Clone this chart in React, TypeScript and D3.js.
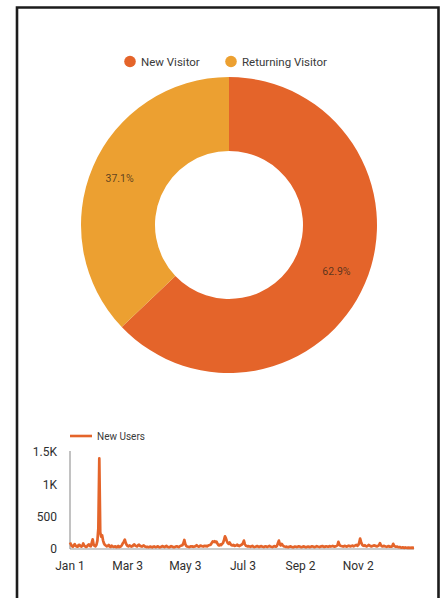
import React from "react";
import * as d3 from "d3";

const segments = ["New Visitor", "Returning Visitor"];
const shares = [62.9, 37.1];
const segColors = ["#E4642A", "#ECA031"];

const seriesName = "New Users";
const startDate = new Date(2019, 0, 1);
const newUsers = [
  100, 70, 45, 35, 55, 75, 50, 40, 35, 60,
  65, 45, 38, 48, 85, 55, 42, 32, 38, 62,
  72, 48, 42, 95, 150, 65, 50, 42, 65, 130,
  320, 1400, 260, 190, 210, 130, 85, 62, 52, 42,
  48, 62, 38, 32, 52, 42, 32, 36, 42, 28,
  32, 46, 30, 36, 42, 62, 90, 115, 145, 95,
  62, 45, 40, 55, 48, 38, 42, 60, 70, 52,
  45, 40, 58, 66, 50, 42, 38, 48, 55, 40,
  36, 30, 34, 28, 32, 38, 30, 26, 34, 40,
  32, 28, 36, 42, 30, 26, 32, 38, 45, 34,
  30, 40, 48, 36, 30, 28, 35, 44, 38, 30,
  26, 32, 38, 42, 35, 30, 40, 48, 55, 60,
  90, 140, 75, 48, 38, 34, 30, 36, 42, 38,
  40, 34, 38, 46, 58, 44, 36, 40, 52, 48,
  42, 38, 50, 44, 48, 40, 52, 58, 62, 70,
  95, 118, 110, 120, 105, 112, 85, 60, 55, 70,
  62, 80, 95, 140, 195, 165, 120, 90, 80, 100,
  72, 60, 55, 64, 48, 52, 58, 66, 50, 46,
  54, 60, 70, 90, 130, 75, 52, 46, 40, 44,
  38, 34, 42, 48, 36, 30, 34, 40, 46, 38,
  32, 36, 44, 40, 34, 30, 38, 42, 36, 32,
  40, 48, 38, 34, 30, 36, 44, 40, 36, 48,
  90, 130, 75, 55, 80, 60, 44, 38, 34, 36,
  32, 28, 34, 40, 36, 30, 26, 32, 38, 34,
  30, 36, 42, 38, 32, 28, 34, 40, 36, 30,
  28, 34, 38, 32, 30, 36, 42, 38, 32, 30,
  36, 44, 38, 34, 30, 36, 40, 46, 38, 32,
  36, 42, 38, 34, 40, 44, 38, 42, 48, 40,
  36, 42, 48, 56, 110, 70, 50, 46, 42, 38,
  44, 48, 40, 38, 46, 52, 44, 40, 48, 54,
  42, 48, 56, 64, 50, 60, 95, 160, 110, 70,
  55, 48, 58, 46, 40, 48, 62, 54, 44, 40,
  46, 52, 58, 48, 44, 40, 48, 60, 90, 58,
  44, 40, 50, 44, 38, 34, 40, 46, 38, 36,
  36, 42, 80, 50, 40, 34, 38, 32, 28, 30,
  24, 20, 26, 22, 18, 24, 20, 16, 22, 18,
  20, 16, 22, 18, 20,
];

const yTicks = [0, 500, 1000, 1500];
const yTickLabels = ["0", "500", "1K", "1.5K"];
const xTickDates = [
  new Date(2019, 0, 1),
  new Date(2019, 2, 3),
  new Date(2019, 4, 3),
  new Date(2019, 6, 3),
  new Date(2019, 8, 2),
  new Date(2019, 10, 2),
];
const xTickLabels = ["Jan 1", "Mar 3", "May 3", "Jul 3", "Sep 2", "Nov 2"];

const FONT = "Roboto, 'Helvetica Neue', Arial, sans-serif";

export default function App() {
  const W = 448;
  const H = 598;

  // donut
  const cx = 229;
  const cy = 225;
  const outerR = 148;
  const innerR = 74;
  const pie = d3.pie<number>().value((d) => d).sort(null);
  const arcs = pie(shares);
  const arcGen = d3.arc<d3.PieArcDatum<number>>().innerRadius(innerR).outerRadius(outerR);
  const labelArc = d3.arc<d3.PieArcDatum<number>>().innerRadius(118).outerRadius(118);

  // line chart
  const dates = newUsers.map((_, i) => d3.timeDay.offset(startDate, i));
  const x = d3
    .scaleTime()
    .domain([dates[0], dates[dates.length - 1]])
    .range([70, 414]);
  const y = d3.scaleLinear().domain([0, 1500]).range([549, 452]);
  const line = d3
    .line<number>()
    .x((_, i) => x(dates[i]))
    .y((d) => y(d))
    .curve(d3.curveLinear);

  return (
    <svg
      width={W}
      height={H}
      style={{ position: "absolute", left: 0, top: 0, background: "#fff" }}
      fontFamily={FONT}
    >
      <rect x={0} y={0} width={W} height={H} fill="#fff" />
      {/* frame */}
      <path d={`M17,${H + 5} L17,7.5 L438.5,7.5 L438.5,${H + 5}`} fill="none" stroke="#1c1c1c" strokeWidth={2.6} />

      {/* donut legend */}
      {segments.map((s, i) => {
        const lx = i === 0 ? 130 : 231;
        return (
          <g key={s}>
            <circle cx={lx} cy={61.5} r={5.8} fill={segColors[i]} />
            <text x={lx + 11} y={61.5} dy="0.35em" fontSize={11.5} fill="#3a3a3a">
              {s}
            </text>
          </g>
        );
      })}

      {/* donut */}
      <g transform={`translate(${cx},${cy})`}>
        {arcs.map((a, i) => (
          <path key={i} d={arcGen(a) as string} fill={segColors[i]} />
        ))}
        {arcs.map((a, i) => {
          const [lx, ly] = labelArc.centroid(a);
          return (
            <text
              key={"l" + i}
              x={lx - 1}
              y={ly}
              dy="0.35em"
              textAnchor="middle"
              fontSize={10.5}
              fill="#3a2a1a"
              fillOpacity={0.8}
            >
              {shares[i].toFixed(1) + "%"}
            </text>
          );
        })}
      </g>

      {/* line legend */}
      <line x1={70} x2={92} y1={436} y2={436} stroke={segColors[0]} strokeWidth={2.6} />
      <text x={97} y={436} dy="0.35em" fontSize={10} fill="#3a3a3a">
        {seriesName}
      </text>

      {/* axes */}
      <line x1={70} x2={70} y1={451} y2={549} stroke="#999" strokeWidth={1.2} />
      <line x1={70} x2={414} y1={549} y2={549} stroke="#999" strokeWidth={1} />
      {yTicks.map((t, i) => (
        <text key={t} x={57} y={y(t)} dy="0.35em" textAnchor="end" fontSize={12} fill="#2e2e2e">
          {yTickLabels[i]}
        </text>
      ))}
      {xTickDates.map((d, i) => (
        <text key={i} x={x(d)} y={566} dy="0.35em" textAnchor="middle" fontSize={12} fill="#2e2e2e">
          {xTickLabels[i]}
        </text>
      ))}

      <path d={line(newUsers) as string} fill="none" stroke={segColors[0]} strokeWidth={2.7} strokeLinejoin="round" />
    </svg>
  );
}
